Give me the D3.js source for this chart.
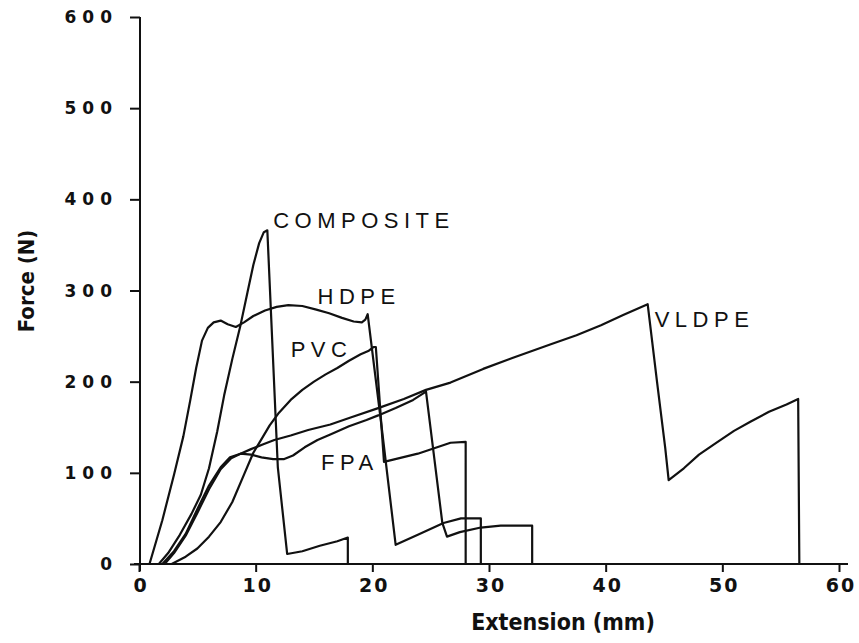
<!DOCTYPE html>
<html>
<head>
<meta charset="utf-8">
<script src="https://cdn.jsdelivr.net/npm/d3@7"></script>
<style>
  html, body { margin: 0; padding: 0; background: #fff; }
  svg { display: block; }
</style>
</head>
<body>
<svg id="chart" width="859" height="643"></svg>
<script>
// ---- data (Extension mm, Force N) ----
const xTicks = [0, 10, 20, 30, 40, 50, 60];
const yTicks = [0, 100, 200, 300, 400, 500, 600];

const composite = [[1.7,0],[2.5,12],[3.5,32],[4.5,55],[5.3,76],[6,105],[6.7,145],[7.3,185],[8,225],[8.7,262],[9.3,298],[9.8,328],[10.3,352],[10.7,364],[11.0,366],[11.9,106],[12.7,11],[14,14],[15.5,20],[17,25],[17.9,29],[17.9,0]];

const hdpe = [[0.9,0],[2,48],[3,98],[3.8,140],[4.4,180],[4.9,215],[5.4,245],[5.9,259],[6.4,265],[7.0,267],[7.6,263],[8.3,260],[9,265],[9.8,272],[10.8,278],[11.8,282],[12.8,284],[14,283],[15.2,279],[16.3,275],[17.4,270],[18.4,266],[19.1,265],[19.4,268],[19.6,274],[20.8,150],[22.0,21],[23.9,32],[26.1,45],[27.6,50],[29.3,50],[29.3,0]];

const pvc = [[2.8,0],[4,8],[5,17],[6,30],[7,46],[8,68],[9,98],[9.8,122],[10.5,137],[11.2,152],[12,166],[13,180],[14,191],[15,200],[16,208],[17,215],[18,223],[19,230],[19.7,234],[20.1,238],[20.3,238],[21.0,112],[23.9,121],[26.7,133],[28.0,134],[28.0,0]];

const fpa = [[2.0,0],[3,14],[4,33],[5,60],[6,86],[7,106],[7.8,117],[8.7,121],[9.6,120],[10.5,117],[11.5,115],[12.4,115],[13.2,119],[14.2,128],[15.3,136],[16.4,142],[18,151],[19.5,158],[20.5,163],[22,171],[23.5,180],[24.6,189],[26.0,45],[26.4,30],[27.5,35],[29.3,40],[31,42],[33.7,42],[33.7,0]];

const vldpe = [[2.2,0],[3,12],[4,31],[5,56],[6,82],[7,104],[7.9,116],[8.7,121],[9.6,126],[10.6,131],[11.6,136],[13,141],[14.5,147],[16.4,153],[18.2,161],[20.5,171],[22.7,181],[24.6,191],[26.7,199],[29.5,214],[32,226],[35.3,241],[37.5,251],[39.6,262],[41.5,273],[43.6,285],[44.4,200],[45.1,128],[45.4,92],[46.7,105],[48,120],[49.6,134],[51,146],[52.4,156],[54,167],[55.5,175],[56.5,181],[56.6,0]];

const seriesNames = ["COMPOSITE", "HDPE", "PVC", "FPA", "VLDPE"];
const seriesData = [composite, hdpe, pvc, fpa, vldpe];
// label anchor points in data units (extension, force)
const labelPos = [[11.5, 369], [15.3, 285], [13.0, 227], [15.6, 103], [44.2, 260]];

// ---- drawing ----
const svg = d3.select("#chart");
const x = d3.scaleLinear().domain([0, 60]).range([139, 839]);
const y = d3.scaleLinear().domain([0, 600]).range([564, 17]);

const ink = "#111";

// axes
const gx = svg.append("g").attr("transform", `translate(0,${y(0)})`)
  .call(d3.axisBottom(x).tickValues(xTicks).tickSize(8).tickSizeOuter(0).tickFormat(""));
const gy = svg.append("g").attr("transform", `translate(${x(0)+1},0)`)
  .call(d3.axisLeft(y).tickValues(yTicks).tickSize(10).tickSizeOuter(0).tickFormat(""));
[gx, gy].forEach(g => {
  g.select(".domain").remove();
  g.selectAll(".tick line").attr("stroke", ink).attr("stroke-width", 2);
});
// axis lines
svg.append("line").attr("x1", x(0) - 5).attr("x2", x(60) + 9)
  .attr("y1", y(0)).attr("y2", y(0)).attr("stroke", ink).attr("stroke-width", 2);
svg.append("line").attr("x1", x(0) + 1).attr("x2", x(0) + 1)
  .attr("y1", y(600)).attr("y2", y(0) + 7).attr("stroke", ink).attr("stroke-width", 2);

// tick labels
svg.append("g").selectAll("text").data(yTicks).join("text")
  .attr("x", 118).attr("y", d => y(d) + 6)
  .attr("text-anchor", "end")
  .attr("font-family", "DejaVu Sans, sans-serif").attr("font-weight", "bold")
  .attr("font-size", 17).attr("letter-spacing", 6).attr("fill", ink)
  .text(d => d);
svg.append("g").selectAll("text").data(xTicks).join("text")
  .attr("x", d => x(d) + 2).attr("y", 592)
  .attr("text-anchor", "middle")
  .attr("font-family", "DejaVu Sans, sans-serif").attr("font-weight", "bold")
  .attr("font-size", 19).attr("letter-spacing", 2).attr("fill", ink)
  .text(d => d);

// axis titles
svg.append("text").attr("x", 563).attr("y", 630).attr("text-anchor", "middle")
  .attr("font-family", "DejaVu Sans Condensed, DejaVu Sans, sans-serif").attr("font-weight", "bold")
  .attr("font-size", 23).attr("fill", ink).text("Extension (mm)");
svg.append("text").attr("transform", "translate(34,281) rotate(-90)").attr("text-anchor", "middle")
  .attr("font-family", "DejaVu Sans Condensed, DejaVu Sans, sans-serif").attr("font-weight", "bold")
  .attr("font-size", 22).attr("fill", ink).text("Force (N)");

// curves
const line = d3.line().x(d => x(d[0])).y(d => y(d[1])).curve(d3.curveLinear);
svg.append("g").selectAll("path").data(seriesData).join("path")
  .attr("d", line).attr("fill", "none").attr("stroke", ink)
  .attr("stroke-width", 2.2).attr("stroke-linejoin", "round");

// series labels
svg.append("g").selectAll("text").data(seriesNames).join("text")
  .attr("x", (d, i) => x(labelPos[i][0])).attr("y", (d, i) => y(labelPos[i][1]))
  .attr("font-family", "Liberation Sans, Arial, sans-serif")
  .attr("font-size", 22).attr("letter-spacing", 5.5).attr("fill", ink)
  .text(d => d);
</script>
</body>
</html>
